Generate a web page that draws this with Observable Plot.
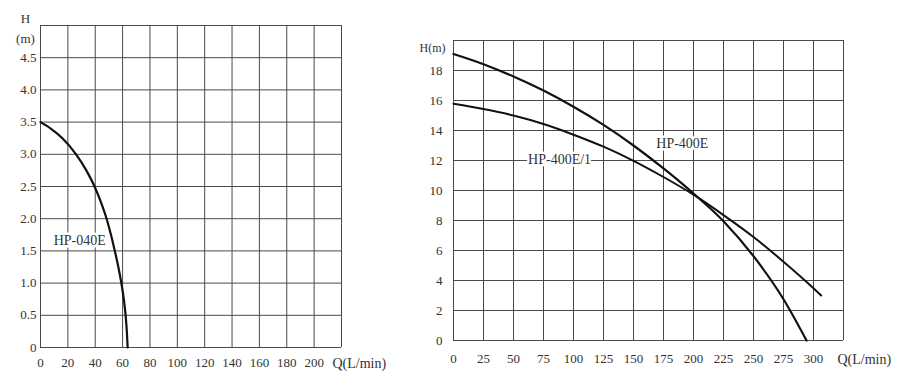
<!DOCTYPE html>
<html>
<head>
<meta charset="utf-8">
<script src="https://cdn.jsdelivr.net/npm/d3@7"></script>
<script src="https://cdn.jsdelivr.net/npm/@observablehq/plot@0.6"></script>
<style>
  body { margin: 0; background: #fff; }
  #wrap { position: relative; width: 900px; height: 384px; background: #fff; overflow: hidden; }
  #left, #right { position: absolute; top: 0; }
  #left { left: 0; }
  #right { left: 400px; }
</style>
</head>
<body>
<div id="wrap"><div id="left"></div><div id="right"></div></div>
<script>
// ---- Left chart: HP-040E ----
const leftQ = [0, 7.5, 16, 26, 33.5, 39.5, 44.3, 48.3, 51.5, 54.3, 56.9, 59.1, 60.9, 62.2, 63.1, 63.7];
const leftH = [3.5, 3.4, 3.25, 3.0, 2.75, 2.5, 2.25, 2.0, 1.75, 1.5, 1.25, 1.0, 0.75, 0.5, 0.25, 0];
const leftXTicks = [0, 20, 40, 60, 80, 100, 120, 140, 160, 180, 200];
const leftXGrid = [0, 20, 40, 60, 80, 100, 120, 140, 160, 180, 200, 220];
const leftYTicks = [0, 0.5, 1.0, 1.5, 2.0, 2.5, 3.0, 3.5, 4.0, 4.5];
const leftYGrid = [0, 0.5, 1.0, 1.5, 2.0, 2.5, 3.0, 3.5, 4.0, 4.5, 5.0];
const leftLabel = {name: "HP-040E", q: 28.7, h: 1.66};

// ---- Right chart: HP-400E and HP-400E/1 ----
const rightQ_E = [0, 25, 50, 75, 100, 125, 150, 175, 200, 225, 250, 275, 294.2];
const rightH_E = [19.1, 18.42, 17.6, 16.66, 15.58, 14.37, 13.0, 11.47, 9.8, 7.95, 5.62, 2.75, 0];
const rightQ_E1 = [0, 25, 50, 75, 100, 125, 150, 175, 200, 225, 250, 275, 300, 306.4];
const rightH_E1 = [15.78, 15.43, 15.0, 14.43, 13.72, 12.92, 11.98, 10.9, 9.72, 8.36, 6.9, 5.25, 3.48, 3.0];
const rightXTicks = [0, 25, 50, 75, 100, 125, 150, 175, 200, 225, 250, 275, 300];
const rightXGrid = [0, 25, 50, 75, 100, 125, 150, 175, 200, 225, 250, 275, 300, 325];
const rightYTicks = [0, 2, 4, 6, 8, 10, 12, 14, 16, 18];
const rightYGrid = [0, 2, 4, 6, 8, 10, 12, 14, 16, 18, 20];
const rightLabels = [
  {name: "HP-400E", q: 190.7, h: 13.1},
  {name: "HP-400E/1", q: 88.4, h: 12.05}
];

const FONT = "'Liberation Serif', 'DejaVu Serif', serif";
const GRID = "#4a4a4a";
const INK = "#333";

const leftData = leftQ.map((q, i) => ({q, h: leftH[i]}));
const dataE = rightQ_E.map((q, i) => ({q, h: rightH_E[i], s: "HP-400E"}));
const dataE1 = rightQ_E1.map((q, i) => ({q, h: rightH_E1[i], s: "HP-400E/1"}));

const left = Plot.plot({
  width: 400, height: 384,
  marginLeft: 40, marginRight: 59, marginTop: 25, marginBottom: 37,
  style: {fontFamily: FONT, fontSize: "13px", color: INK, background: "#fff", overflow: "visible"},
  x: {domain: [0, 220]},
  y: {domain: [0, 5]},
  marks: [
    Plot.ruleX(leftXGrid, {stroke: GRID, strokeWidth: 1}),
    Plot.ruleY(leftYGrid, {stroke: GRID, strokeWidth: 1}),
    Plot.axisX(leftXTicks, {tickSize: 0, tickPadding: 10, fontSize: 13, label: null}),
    Plot.axisY(leftYTicks, {tickSize: 0, tickPadding: 4, fontSize: 13, label: null,
      tickFormat: d => d === 0 ? "0" : d.toFixed(1)}),
    Plot.line(leftData, {x: "q", y: "h", curve: "monotone-x", stroke: "#111", strokeWidth: 2.2}),
    Plot.text([leftLabel], {x: "q", y: "h", text: "name", fontSize: 14, fill: INK,
      stroke: "#fff", strokeWidth: 5}),
    Plot.text(["H"], {frameAnchor: "top-left", dx: -15, dy: -7, textAnchor: "middle", lineAnchor: "middle", fontSize: 13, fill: INK}),
    Plot.text(["(m)"], {frameAnchor: "top-left", dx: -15, dy: 13, textAnchor: "middle", lineAnchor: "middle", fontSize: 13, fill: INK}),
    Plot.text(["Q(L/min)"], {frameAnchor: "bottom-right", dx: -9, dy: 16, textAnchor: "start", lineAnchor: "middle", fontSize: 14, fill: INK})
  ]
});
document.getElementById("left").appendChild(left);

const right = Plot.plot({
  width: 500, height: 384,
  marginLeft: 53, marginRight: 57, marginTop: 40, marginBottom: 44,
  style: {fontFamily: FONT, fontSize: "13px", color: INK, background: "#fff", overflow: "visible"},
  x: {domain: [0, 325]},
  y: {domain: [0, 20]},
  marks: [
    Plot.ruleX(rightXGrid, {stroke: GRID, strokeWidth: 1}),
    Plot.ruleY(rightYGrid, {stroke: GRID, strokeWidth: 1}),
    Plot.axisX(rightXTicks, {tickSize: 0, tickPadding: 13, fontSize: 13, label: null}),
    Plot.axisY(rightYTicks, {tickSize: 0, tickPadding: 11, fontSize: 13, label: null}),
    Plot.line(dataE, {x: "q", y: "h", curve: "monotone-x", stroke: "#111", strokeWidth: 2.2}),
    Plot.line(dataE1, {x: "q", y: "h", curve: "monotone-x", stroke: "#111", strokeWidth: 2}),
    Plot.text(rightLabels, {x: "q", y: "h", text: "name", fontSize: 14, fill: INK,
      stroke: "#fff", strokeWidth: 5}),
    Plot.text(["H(m)"], {frameAnchor: "top-left", dx: -21, dy: 8, textAnchor: "middle", lineAnchor: "middle", fontSize: 12, fill: INK}),
    Plot.text(["Q(L/min)"], {frameAnchor: "bottom-right", dx: -6, dy: 19, textAnchor: "start", lineAnchor: "middle", fontSize: 14, fill: INK})
  ]
});
document.getElementById("right").appendChild(right);
</script>
</body>
</html>
